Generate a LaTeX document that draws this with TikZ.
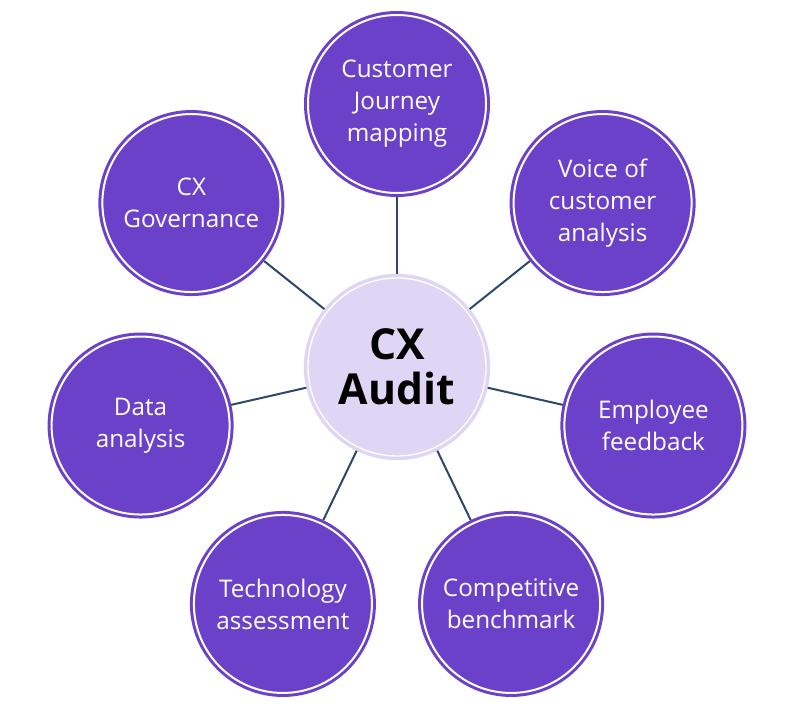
\documentclass[tikz,border=0pt]{standalone}
\usepackage{fontspec}
\setmainfont{Open Sans}
\usetikzlibrary{positioning,calc}
\definecolor{topicpurple}{RGB}{107, 65, 201}
\definecolor{auditlilac}{RGB}{223, 214, 245}
\definecolor{linkslate}{RGB}{44, 74, 104}

\tikzset{
    topic/.style={circle, fill=topicpurple, draw=topicpurple, double=white,
        line width=2.25pt, double distance=1.5pt, outer sep=3pt,
        minimum size=133.5pt, inner sep=0pt, align=center, text=white,
        font=\fontsize{18.2}{24}\selectfont},
    hub/.style={circle, fill=auditlilac, draw=auditlilac, double=white,
        line width=2.6pt, double distance=1pt, outer sep=3pt,
        minimum size=133.5pt, inner sep=0pt, align=center, text=black,
        font=\fontsize{32}{34}\selectfont\bfseries},
    link/.style={draw=linkslate, line width=1.5pt}
}

\begin{document}
\begin{tikzpicture}[x=0.75pt, y=0.75pt]
    % picture frame (800 x 722 px)
    \useasboundingbox (-397, -355) rectangle (403, 367);

    % central circle
    \node[hub] (audit) at (0, 0) {CX\\Audit};

    % seven topics around the centre
    \node[topic] (journey) at (90:263) {Customer\\Journey\\mapping};
    \node[topic] (voice) at (38.57:263) {Voice of\\customer\\analysis};
    \node[topic] (employee) at (-12.86:263) {Employee\\feedback};
    \node[topic] (benchmark) at (-64.29:263) {Competitive\\benchmark};
    \node[topic] (tech) at (-115.71:263) {Technology\\assessment};
    \node[topic] (data) at (-167.14:263) {Data\\analysis};
    \node[topic] (governance) at (141.43:263) {CX\\Governance};

    % connectors
    \draw[link] (audit) -- (journey);
    \draw[link] (audit) -- (voice);
    \draw[link] (audit) -- (employee);
    \draw[link] (audit) -- (benchmark);
    \draw[link] (audit) -- (tech);
    \draw[link] (audit) -- (data);
    \draw[link] (audit) -- (governance);
\end{tikzpicture}
\end{document}
